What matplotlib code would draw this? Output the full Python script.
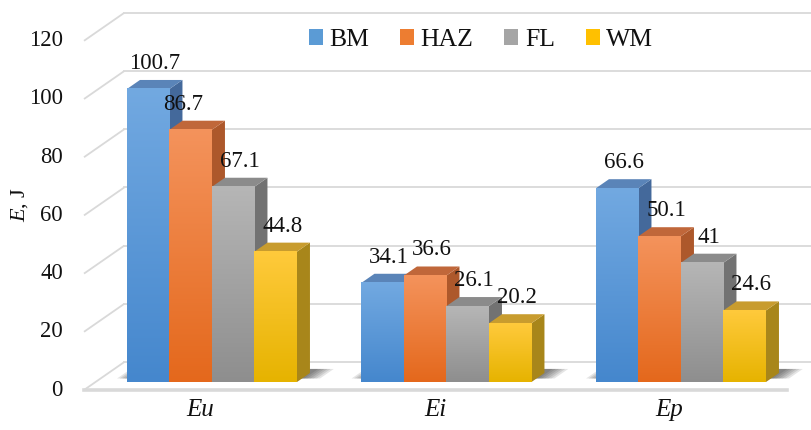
import numpy as np
import matplotlib
matplotlib.use("Agg")
import matplotlib.pyplot as plt
from matplotlib.patches import Polygon, Patch
from matplotlib.colors import LinearSegmentedColormap

# data
categories = ["Eu", "Ei", "Ep"]
series = ["BM", "HAZ", "FL", "WM"]
bm = [100.7, 34.1, 66.6]
haz = [86.7, 36.6, 50.1]
fl = [67.1, 26.1, 41.0]
wm = [44.8, 20.2, 24.6]
values = [bm, haz, fl, wm]
y_ticks = [0, 20, 40, 60, 80, 100, 120]

# colours: front (bottom, top), side, top, legend
front_cols = [("#4587cd", "#72a9e1"), ("#e4681c", "#f4935c"),
              ("#8e8e8e", "#b6b6b6"), ("#e6b300", "#ffca3c")]
side_cols = ["#44699b", "#ad582b", "#727272", "#a8861a"]
top_cols = ["#5a84b8", "#c0673a", "#8b8b8b", "#c89c2e"]
legend_cols = ["#5b9bd5", "#ed7d31", "#a5a5a5", "#ffc000"]
grid_col = "#d9d9d9"
text_col = "#111111"

plt.rcParams["font.family"] = ["Liberation Serif", "DejaVu Serif"]
plt.rcParams["mathtext.fontset"] = "custom"
plt.rcParams["mathtext.it"] = "Liberation Serif:italic"
plt.rcParams["mathtext.rm"] = "Liberation Serif"

# pixel calibration of the projected 3D frame
W, H = 812, 430
PX_V = 2.91        # pixels per joule
BASE_PX = 382      # row of the bar bases
STEP_PX = 234.5    # distance between groups
C0_PX = 212        # centre of first group
RATIO = 1.44       # horizontal shift per vertical shift for depth
BAR_W = 42.5 / STEP_PX
D_BAR = 9 / PX_V           # bar depth (in J units of vertical shift)
D_FRONT = -8 / PX_V        # front edge of the floor
D_BACK = 20 / PX_V         # back wall
X_FLOOR_L = (84 - C0_PX) / STEP_PX
X_FLOOR_R = (787 - C0_PX) / STEP_PX


def shift(x, y, d):
    return x + d * PX_V * RATIO / STEP_PX, y + d


def px(n):
    return n / STEP_PX


fig = plt.figure(figsize=(W / 100, H / 100), dpi=100)
ax = fig.add_axes([0, 0, 1, 1])
ax.axis("off")

# walls and floor
xl_back, _ = shift(X_FLOOR_L, 0, D_BACK - D_FRONT)
xr_back, _ = shift(X_FLOOR_R, 0, D_BACK - D_FRONT)
for t in y_ticks:
    ax.plot([X_FLOOR_L, xl_back], [t + D_FRONT, t + D_BACK],
            color=grid_col, lw=1.3, zorder=1, solid_capstyle="butt")
    ax.plot([xl_back, xr_back + 0.2], [t + D_BACK, t + D_BACK],
            color=grid_col, lw=1.3, zorder=1)
ax.plot([X_FLOOR_L, X_FLOOR_R], [D_FRONT, D_FRONT], color=grid_col, lw=2.6, zorder=1)

# y tick labels
for t in y_ticks:
    ax.text(X_FLOOR_L - px(21), t + D_FRONT, f"{t}", ha="right", va="center",
            fontsize=16.3, color=text_col)
ax.text(-C0_PX / STEP_PX + px(20), (BASE_PX - 204) / PX_V, r"$E$, J", rotation=90,
        ha="center", va="center", fontsize=16, color=text_col)

# category labels
for g, cat in enumerate(categories):
    cx, cy = shift(g, 0, D_FRONT)
    ax.text(cx, (BASE_PX - 410) / PX_V, cat, ha="center", va="center",
            fontsize=18, style="italic", color=text_col)

label_nudge_px = {(0, 1): -14}

for g in range(len(categories)):
    left = g - 2 * BAR_W
    right = g + 2 * BAR_W
    # soft shadow on the floor, darkest next to the bars
    for m in np.linspace(px(15), px(2), 6):
        x0, y0 = shift(left - m, 0, 1.2)
        x1, y1 = shift(right + m * 1.2, 0, 1.2)
        x2, y2 = shift(right + m * 1.2, 0, D_BAR + 1.4)
        x3, y3 = shift(left - m, 0, D_BAR + 1.4)
        ax.add_patch(Polygon([(x0, y0), (x1, y1), (x2, y2), (x3, y3)],
                             closed=True, fc="black", ec="none", alpha=0.1, zorder=2))
    for s in range(len(series)):
        v = values[s][g]
        x0 = left + s * BAR_W
        x1 = x0 + BAR_W
        z = 3 + s * 0.1
        # side face
        bx1, by0 = shift(x1, 0, D_BAR)
        _, by1 = shift(x1, v, D_BAR)
        ax.add_patch(Polygon([(x1, 0), (bx1, by0), (bx1, by1), (x1, v)],
                             closed=True, fc=side_cols[s], ec="none", zorder=z))
        # top face
        bx0, _ = shift(x0, v, D_BAR)
        ax.add_patch(Polygon([(x0, v), (x1, v), (bx1, by1), (bx0, by1)],
                             closed=True, fc=top_cols[s], ec="none", zorder=z))
        # front face with vertical gradient
        cmap = LinearSegmentedColormap.from_list(series[s], front_cols[s])
        grad = np.linspace(0, 1, 256).reshape(-1, 1)
        ax.imshow(grad, cmap=cmap, origin="lower", aspect="auto",
                  extent=[x0, x1, 0, v], interpolation="bicubic", zorder=z + 0.01)
        # value label
        lx = (x0 + bx1) / 2 + px(label_nudge_px.get((g, s), 0))
        ax.text(lx, by1 + 6 / PX_V, f"{v:g}", ha="center", va="bottom",
                fontsize=16.5, color=text_col, zorder=6)

ax.set_xlim(-C0_PX / STEP_PX, (W - C0_PX) / STEP_PX)
ax.set_ylim((BASE_PX - H) / PX_V, BASE_PX / PX_V)

handles = [Patch(fc=c, ec="none", label=n) for c, n in zip(legend_cols, series)]
fig.legend(handles=handles, loc="center", bbox_to_anchor=(481 / W, 1 - 40 / H),
           ncol=4, frameon=False, fontsize=18.5, handlelength=0.55, handleheight=0.55,
           handletextpad=0.25, columnspacing=1.2, labelcolor=text_col)

fig.savefig("out.png", dpi=100)
